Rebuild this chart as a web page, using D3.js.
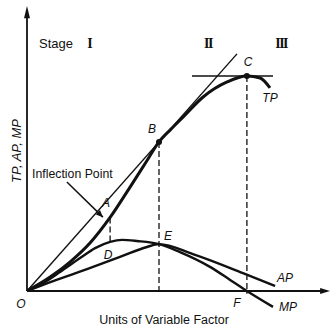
<!DOCTYPE html>
<html>
<head>
<meta charset="utf-8">
<script src="https://cdn.jsdelivr.net/npm/d3@7"></script>
<style>
  html, body { margin: 0; padding: 0; background: #fff; }
  svg { display: block; }
  text { font-family: "Liberation Sans", Arial, sans-serif; fill: #111; }
  .it { font-style: italic; }
  .roman { font-family: "Liberation Serif", "DejaVu Serif", serif; }
</style>
</head>
<body>
<svg id="chart" width="333" height="327"></svg>
<script>
// Units of variable factor (x) and output (y) for the three product curves
const tpX = [0, 7.7, 14.3, 21, 27.7, 34.3, 39.7, 44, 48, 52, 58.7, 66.7, 73.3, 77.7, 81];
const tpY = [0, 4.9, 10.2, 16.9, 25.9, 36.5, 45.4, 52.5, 57, 61.2, 68.3, 73.6, 75.7, 75, 71.5];

const mpX = [0, 6, 11, 17.7, 22.7, 27.7, 31.7, 36.7, 44, 51, 61, 67.7, 73.3, 82];
const mpY = [0, 3.2, 6.7, 11.6, 15.1, 17.3, 18, 17.6, 16.5, 13.7, 8.5, 3.9, 0, -5.6];

const apX = [0, 8.7, 20, 31, 40, 44, 55.3, 72, 82.7];
const apY = [0, 3.5, 7.7, 12, 15.5, 16.5, 13, 6.3, 1.8];

// Key points: A inflection of TP, B tangency of ray from O (max AP),
// C maximum of TP, D maximum of MP, E = AP max (MP = AP), F where MP = 0
const pointA = [27.7, 25.9];
const pointB = [44, 52.5];
const pointC = [73.3, 75.7];
const pointD = [27.7, 17.3];

// Ray from the origin through B, and horizontal tangent at C
const rayEnd = [70, 83.5];
const tangentC = [55, 82];

const stageLabels = ["I", "II", "III"];
const stageX = [20.7, 60.3, 84.7];
const curveLabels = ["TP", "AP", "MP"];

const svg = d3.select("#chart");
const x = d3.scaleLinear().domain([0, 100]).range([27, 327]);
const y = d3.scaleLinear().domain([0, 100]).range([291, 7]);

const line = d3.line().x(d => x(d[0])).y(d => y(d[1])).curve(d3.curveMonotoneX);
const straight = d3.line().x(d => x(d[0])).y(d => y(d[1]));
const zip = (xs, ys) => xs.map((v, i) => [v, ys[i]]);

// Axes with arrowheads
const axisX = d3.axisBottom(x).tickValues([]).tickSizeOuter(0);
const gx = svg.append("g").attr("transform", `translate(0,${y(0)})`).call(axisX);
gx.select(".domain").attr("stroke", "#111").attr("stroke-width", 1.8)
  .attr("d", `M${x(0)},0H${x(100)}`);
const axisY = d3.axisLeft(y).tickValues([]).tickSizeOuter(0);
const gy = svg.append("g").attr("transform", `translate(${x(0)},0)`).call(axisY);
gy.select(".domain").attr("stroke", "#111").attr("stroke-width", 1.8)
  .attr("d", `M0,${y(0)}V${y(97)}`);

svg.append("path")
  .attr("d", `M${x(0)},${y(100) - 1} L${x(0) - 3},${y(96)} L${x(0) + 3},${y(96)} Z`)
  .attr("fill", "#111");
svg.append("path")
  .attr("d", `M${x(101)},${y(0)} L${x(97.7)},${y(0) - 3} L${x(97.7)},${y(0) + 3} Z`)
  .attr("fill", "#111");

// Dashed guides
const dashed = [
  [pointA, pointD],
  [pointB, [pointB[0], 0]],
  [pointC, [pointC[0], -1]]
];
svg.selectAll(".guide").data(dashed).enter().append("path")
  .attr("class", "guide")
  .attr("d", d => straight(d))
  .attr("stroke", "#111").attr("stroke-width", 1.3)
  .attr("stroke-dasharray", "6,3").attr("fill", "none");

// Ray through B and tangent at C
svg.append("path").attr("d", straight([[0, 0], rayEnd]))
  .attr("stroke", "#111").attr("stroke-width", 1.4).attr("fill", "none");
svg.append("path").attr("d", straight([[tangentC[0], pointC[1]], [tangentC[1], pointC[1]]]))
  .attr("stroke", "#111").attr("stroke-width", 1.6).attr("fill", "none");

// Curves
svg.append("path").attr("d", line(zip(apX, apY)))
  .attr("stroke", "#111").attr("stroke-width", 2.4).attr("fill", "none");
svg.append("path").attr("d", line(zip(mpX, mpY)))
  .attr("stroke", "#111").attr("stroke-width", 2.4).attr("fill", "none");
svg.append("path").attr("d", line(zip(tpX, tpY)))
  .attr("stroke", "#111").attr("stroke-width", 3).attr("fill", "none");

// Marked points
svg.selectAll(".dot").data([pointB, pointC]).enter().append("circle")
  .attr("cx", d => x(d[0])).attr("cy", d => y(d[1])).attr("r", 3).attr("fill", "#111");

// Inflection point arrow
const arrowFrom = [13.3, 38.4];
const arrowTo = [25.3, 26];
svg.append("path").attr("d", straight([arrowFrom, arrowTo]))
  .attr("stroke", "#111").attr("stroke-width", 1.5);
{
  const x1 = x(arrowFrom[0]), y1 = y(arrowFrom[1]), x2 = x(arrowTo[0]), y2 = y(arrowTo[1]);
  const a = Math.atan2(y2 - y1, x2 - x1), L = 7, W = 3;
  const bx = x2 - L * Math.cos(a), by = y2 - L * Math.sin(a);
  svg.append("path")
    .attr("d", `M${x2},${y2} L${bx - W * Math.sin(a)},${by + W * Math.cos(a)} L${bx + W * Math.sin(a)},${by - W * Math.cos(a)} Z`)
    .attr("fill", "#111");
}

// Text
svg.append("text").attr("x", 39).attr("y", 48).attr("font-size", 13).text("Stage");
svg.selectAll(".roman").data(stageLabels).enter().append("text")
  .attr("class", "roman").attr("x", (d, i) => x(stageX[i])).attr("y", 48)
  .attr("text-anchor", "middle").attr("font-size", 14).attr("font-weight", "bold")
  .attr("letter-spacing", "-1.6px")
  .text(d => d);

svg.append("text").attr("x", 32).attr("y", 178).attr("font-size", 12.3).text("Inflection Point");

const pointLabels = [
  ["A", 106, 207], ["B", 152, 133], ["C", 248, 66], ["D", 108, 259],
  ["E", 168, 240], ["F", 237, 307], ["O", 21, 308]
];
svg.selectAll(".plab").data(pointLabels).enter().append("text")
  .attr("class", "it").attr("x", d => d[1]).attr("y", d => d[2])
  .attr("text-anchor", "middle").attr("font-size", 12).text(d => d[0]);

const curveLabelPos = [[270, 102], [285, 282], [288, 311]];
svg.selectAll(".clab").data(curveLabels).enter().append("text")
  .attr("class", "it").attr("x", (d, i) => curveLabelPos[i][0]).attr("y", (d, i) => curveLabelPos[i][1])
  .attr("text-anchor", "middle").attr("font-size", 12).text(d => d);

svg.append("text").attr("class", "it")
  .attr("transform", "translate(21,151) rotate(-90)")
  .attr("text-anchor", "middle").attr("font-size", 13).text("TP, AP, MP");

svg.append("text").attr("x", 164).attr("y", 324).attr("text-anchor", "middle")
  .attr("font-size", 12.5).text("Units of Variable Factor");
</script>
</body>
</html>
